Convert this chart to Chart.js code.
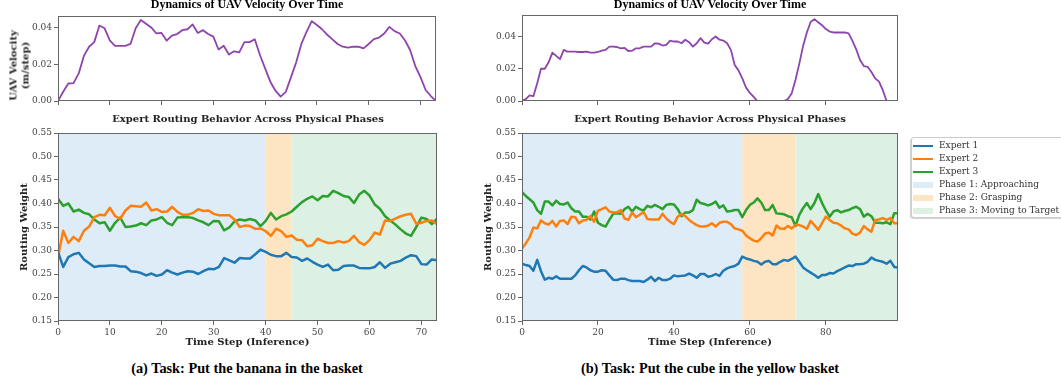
<!DOCTYPE html>
<html>
<head>
<meta charset="utf-8">
<script src="https://cdn.jsdelivr.net/npm/chart.js@4.4.0/dist/chart.umd.min.js"></script>
<style>
  html, body { margin: 0; padding: 0; background: #fff; }
  #fig { position: relative; width: 1061px; height: 385px; overflow: hidden; }
  canvas { position: absolute; }
  .txt { position: absolute; width: 400px; text-align: center; white-space: nowrap; }
  .title-top { font: bold 12px 'Liberation Serif'; line-height: 14px; color: #000; }
  .title-mid { font: bold 10px 'DejaVu Serif'; line-height: 12px; color: #222; }
  .caption { font: bold 14.3px 'Liberation Serif'; line-height: 16px; color: #000; }
  .ylab {
    position: absolute; width: 100px; text-align: center; white-space: nowrap;
    font: bold 10px 'DejaVu Serif'; line-height: 11.5px; color: #222;
    transform: rotate(-90deg);
  }
  #legend {
    position: absolute; left: 911px; top: 137px; width: 160px; height: 81px;
    border: 1px solid #ccc; border-radius: 3px; background: #fff;
    box-shadow: -1px 1px 1px rgba(0,0,0,0.18);
    font: 9px 'DejaVu Serif'; color: #333; box-sizing: border-box; padding-top: 1px;
  }
  #legend .row { position: relative; height: 13.1px; line-height: 13.1px; padding-left: 27px; }
  #legend .line { position: absolute; left: 1px; top: 5.5px; width: 20px; height: 2px; }
  #legend .patch { position: absolute; left: 1px; top: 3.5px; width: 20px; height: 6px; }
</style>
</head>
<body>
<div id="fig"></div>
<script>
// --- data ---
const expertNames = ['Expert 1', 'Expert 2', 'Expert 3'];
const expertColors = ['#1f77b4', '#ff7f0e', '#2ca02c'];
const phaseNames = ['Phase 1: Approaching', 'Phase 2: Grasping', 'Phase 3: Moving to Target'];
const phaseColors = ['rgb(222,236,248)', 'rgb(253,229,196)', 'rgb(221,240,228)'];
const velColor = '#8e44ad';

// phase boundaries (time steps)
const phasesA = [0, 40, 45, 73];
const phasesB = [0, 58, 72, 99];

// (a) banana task, steps 0..73
const velA = [
  0, 0.005, 0.0095, 0.0097, 0.015, 0.0245, 0.0295, 0.032, 0.041, 0.0395,
  0.033, 0.030, 0.030, 0.030, 0.031, 0.0395, 0.044, 0.042, 0.040, 0.0367,
  0.037, 0.0328, 0.0355, 0.0364, 0.0385, 0.039, 0.0416, 0.037, 0.0385, 0.0364,
  0.035, 0.028, 0.030, 0.0253, 0.027, 0.0264, 0.032, 0.032, 0.0336, 0.025,
  0.0177, 0.0105, 0.0056, 0.0024, 0.005, 0.013, 0.021, 0.031, 0.0376, 0.0434,
  0.0413, 0.039, 0.036, 0.0335, 0.031, 0.0295, 0.029, 0.0295, 0.0295, 0.0286,
  0.031, 0.0336, 0.0345, 0.0367, 0.0403, 0.038, 0.0367, 0.033, 0.0277, 0.019,
  0.013, 0.006, 0.0027, 0
];
const expert1A = [
  0.297, 0.265, 0.286, 0.292, 0.295, 0.281, 0.273, 0.265, 0.267, 0.267,
  0.268, 0.268, 0.266, 0.266, 0.256, 0.255, 0.252, 0.247, 0.251, 0.246,
  0.249, 0.258, 0.253, 0.249, 0.253, 0.256, 0.255, 0.250, 0.256, 0.261,
  0.260, 0.265, 0.284, 0.279, 0.274, 0.284, 0.283, 0.283, 0.292, 0.302,
  0.297, 0.291, 0.288, 0.288, 0.295, 0.286, 0.285, 0.278, 0.283, 0.276,
  0.270, 0.265, 0.270, 0.258, 0.259, 0.267, 0.268, 0.268, 0.263, 0.262,
  0.262, 0.265, 0.275, 0.263, 0.272, 0.275, 0.278, 0.285, 0.290, 0.288,
  0.271, 0.270, 0.281, 0.279
];
const expert2A = [
  0.286, 0.342, 0.316, 0.329, 0.320, 0.342, 0.351, 0.371, 0.376, 0.375,
  0.391, 0.373, 0.368, 0.385, 0.395, 0.394, 0.393, 0.402, 0.385, 0.388,
  0.382, 0.383, 0.393, 0.382, 0.376, 0.376, 0.380, 0.388, 0.384, 0.385,
  0.378, 0.375, 0.375, 0.375, 0.366, 0.350, 0.353, 0.352, 0.346, 0.347,
  0.341, 0.331, 0.346, 0.341, 0.329, 0.332, 0.323, 0.322, 0.309, 0.311,
  0.325, 0.320, 0.316, 0.316, 0.320, 0.317, 0.320, 0.331, 0.318, 0.312,
  0.322, 0.338, 0.334, 0.364, 0.363, 0.368, 0.373, 0.376, 0.378, 0.357,
  0.359, 0.363, 0.364, 0.356
];
const expert3A = [
  0.410, 0.395, 0.400, 0.383, 0.387, 0.380, 0.377, 0.366, 0.358, 0.360,
  0.342, 0.359, 0.370, 0.350, 0.351, 0.353, 0.358, 0.354, 0.364, 0.366,
  0.371, 0.359, 0.354, 0.370, 0.371, 0.371, 0.369, 0.364, 0.360, 0.354,
  0.363, 0.362, 0.343, 0.349, 0.362, 0.366, 0.364, 0.367, 0.364, 0.352,
  0.363, 0.380, 0.366, 0.373, 0.377, 0.383, 0.393, 0.403, 0.410, 0.415,
  0.407, 0.416, 0.415, 0.427, 0.422, 0.416, 0.414, 0.401, 0.419, 0.427,
  0.417, 0.398, 0.389, 0.373, 0.364, 0.355, 0.345, 0.336, 0.331, 0.350,
  0.370, 0.367, 0.356, 0.368
];

// (b) cube task, steps 0..99
const velB = [
  0, 0.0012, 0.0035, 0.003, 0.011, 0.020, 0.020, 0.024, 0.030, 0.028,
  0.026, 0.0317, 0.0306, 0.0306, 0.0306, 0.0304, 0.0304, 0.0306, 0.030, 0.030,
  0.0304, 0.0312, 0.0317, 0.0337, 0.0337, 0.0335, 0.0327, 0.0329, 0.031, 0.0312,
  0.0327, 0.0327, 0.0337, 0.0337, 0.0337, 0.0358, 0.0356, 0.0344, 0.0348, 0.0375,
  0.0369, 0.0369, 0.0358, 0.038, 0.0365, 0.0337, 0.0358, 0.039, 0.0362, 0.0356,
  0.0383, 0.040, 0.038, 0.0375, 0.0358, 0.0317, 0.0223, 0.019, 0.014, 0.0083,
  0.005, 0.0025, 0, 0, 0, 0, 0, 0, 0, 0,
  0.0012, 0.0046, 0.013, 0.023, 0.034, 0.0425, 0.049, 0.0508, 0.0488, 0.047,
  0.0446, 0.0431, 0.0425, 0.0425, 0.0425, 0.0425, 0.042, 0.0373, 0.032, 0.0254,
  0.0217, 0.0212, 0.018, 0.014, 0.012, 0.0067, 0, 0, 0, 0
];
const expert1B = [
  0.272, 0.269, 0.267, 0.257, 0.280, 0.256, 0.238, 0.242, 0.240, 0.245,
  0.240, 0.240, 0.240, 0.240, 0.247, 0.258, 0.267, 0.264, 0.258, 0.255,
  0.255, 0.258, 0.257, 0.247, 0.238, 0.237, 0.240, 0.240, 0.237, 0.235,
  0.235, 0.235, 0.233, 0.238, 0.244, 0.235, 0.242, 0.237, 0.237, 0.240,
  0.247, 0.245, 0.246, 0.247, 0.251, 0.247, 0.242, 0.250, 0.250, 0.244,
  0.246, 0.250, 0.246, 0.257, 0.262, 0.265, 0.267, 0.272, 0.287, 0.283,
  0.281, 0.278, 0.276, 0.270, 0.276, 0.278, 0.271, 0.271, 0.276, 0.280,
  0.278, 0.282, 0.287, 0.276, 0.264, 0.258, 0.253, 0.248, 0.242, 0.248,
  0.248, 0.252, 0.251, 0.256, 0.260, 0.264, 0.268, 0.267, 0.271, 0.271,
  0.272, 0.276, 0.285, 0.280, 0.278, 0.276, 0.272, 0.278, 0.265, 0.264
];
const expert2B = [
  0.304, 0.315, 0.328, 0.349, 0.347, 0.364, 0.358, 0.355, 0.363, 0.351,
  0.363, 0.364, 0.356, 0.372, 0.371, 0.358, 0.364, 0.365, 0.373, 0.361,
  0.385, 0.388, 0.392, 0.383, 0.381, 0.381, 0.386, 0.368, 0.365, 0.381,
  0.371, 0.376, 0.382, 0.367, 0.366, 0.366, 0.366, 0.378, 0.368, 0.361,
  0.356, 0.372, 0.378, 0.373, 0.365, 0.359, 0.354, 0.351, 0.351, 0.353,
  0.358, 0.351, 0.359, 0.361, 0.361, 0.356, 0.347, 0.345, 0.342, 0.332,
  0.326, 0.321, 0.319, 0.326, 0.336, 0.338, 0.332, 0.353, 0.347, 0.346,
  0.352, 0.347, 0.354, 0.354, 0.351, 0.346, 0.363, 0.354, 0.344, 0.358,
  0.372, 0.365, 0.359, 0.358, 0.353, 0.347, 0.345, 0.336, 0.333, 0.338,
  0.352, 0.345, 0.340, 0.365, 0.366, 0.369, 0.365, 0.369, 0.358, 0.358
];
const expert3B = [
  0.424, 0.416, 0.409, 0.402, 0.386, 0.378, 0.404, 0.404, 0.396, 0.406,
  0.399, 0.398, 0.402, 0.390, 0.383, 0.383, 0.372, 0.372, 0.366, 0.383,
  0.359, 0.354, 0.351, 0.365, 0.378, 0.379, 0.378, 0.388, 0.393, 0.383,
  0.393, 0.388, 0.385, 0.395, 0.392, 0.397, 0.393, 0.388, 0.397, 0.399,
  0.398, 0.388, 0.373, 0.381, 0.381, 0.386, 0.408, 0.401, 0.399, 0.396,
  0.399, 0.404, 0.391, 0.396, 0.383, 0.384, 0.386, 0.386, 0.371, 0.386,
  0.397, 0.402, 0.411, 0.402, 0.386, 0.386, 0.397, 0.379, 0.378, 0.377,
  0.373, 0.371, 0.352, 0.376, 0.390, 0.401, 0.388, 0.401, 0.420, 0.401,
  0.385, 0.372, 0.383, 0.386, 0.381, 0.384, 0.386, 0.390, 0.393, 0.388,
  0.372, 0.378, 0.373, 0.359, 0.359, 0.358, 0.360, 0.356, 0.379, 0.379
];

const velTitle = 'Dynamics of UAV Velocity Over Time';
const velYTitle = ['UAV Velocity', '(m/step)'];
const routeTitle = 'Expert Routing Behavior Across Physical Phases';
const xTitle = 'Time Step (Inference)';
const captions = ['(a) Task: Put the banana in the basket', '(b) Task: Put the cube in the yellow basket'];

// --- drawing ---
const fig = document.getElementById('fig');
const TICK_FONT = { family: 'DejaVu Serif', size: 9 };

// phase shading under the lines + matplotlib style frame on top
const framePlugin = {
  id: 'frame',
  beforeDatasetsDraw(chart, args, opts) {
    const { ctx, chartArea: a, scales: { x } } = chart;
    const b = opts.phases;
    if (!b) return;
    ctx.save();
    for (let i = 0; i < b.length - 1; i++) {
      const x0 = x.getPixelForValue(b[i]);
      const x1 = x.getPixelForValue(b[i + 1]);
      ctx.fillStyle = phaseColors[i];
      ctx.fillRect(x0, a.top, x1 - x0, a.bottom - a.top);
    }
    ctx.restore();
  },
  afterDatasetsDraw(chart) {
    const { ctx, chartArea: a } = chart;
    ctx.save();
    ctx.strokeStyle = '#666';
    ctx.lineWidth = 1;
    const l = Math.round(a.left) + 0.5, t = Math.round(a.top) + 0.5;
    const r = Math.round(a.right) - 0.5, btm = Math.round(a.bottom) - 0.5;
    ctx.strokeRect(l, t, r - l, btm - t);
    ctx.restore();
  }
};

function placeCanvas(left, top, w, h) {
  const c = document.createElement('canvas');
  c.width = w; c.height = h;
  c.style.left = left + 'px'; c.style.top = top + 'px';
  c.style.width = w + 'px'; c.style.height = h + 'px';
  fig.appendChild(c);
  return c;
}

function series(values, color, width, label) {
  return {
    label: label,
    data: values.map((v, i) => ({ x: i, y: v })),
    borderColor: color,
    borderWidth: width,
    borderJoinStyle: 'round',
    pointRadius: 0,
    tension: 0,
    fill: false
  };
}

function makeChart(canvas, datasets, o) {
  return new Chart(canvas, {
    type: 'line',
    data: { datasets: datasets },
    options: {
      responsive: false,
      animation: false,
      devicePixelRatio: 1,
      layout: { padding: { left: 0, top: o.padTop, right: o.padRight, bottom: 0 } },
      plugins: {
        legend: { display: false },
        tooltip: { enabled: false },
        frame: { phases: o.phases }
      },
      scales: {
        x: {
          type: 'linear', min: 0, max: o.xMax,
          afterFit: s => { s.height = o.xHeight; },
          grid: { drawOnChartArea: false, drawTicks: true, tickLength: 4, color: '#666' },
          border: { display: false },
          ticks: {
            display: o.xLabels, stepSize: o.xStep, includeBounds: false,
            padding: 2, maxRotation: 0, autoSkip: false, color: '#444', font: TICK_FONT
          },
          title: o.xLabels ? {
            display: true, text: xTitle, color: '#222',
            font: { family: 'DejaVu Serif', size: 10, weight: 'bold', lineHeight: 1.2 },
            padding: { top: 0, bottom: 7 }
          } : { display: false }
        },
        y: {
          min: o.yMin, max: o.yMax,
          afterFit: s => { s.width = 58; },
          grid: { drawOnChartArea: false, drawTicks: true, tickLength: 4, color: '#666' },
          border: { display: false },
          ticks: {
            stepSize: o.yStep, includeBounds: false, padding: 2,
            color: '#444', font: TICK_FONT,
            callback: v => v.toFixed(2)
          },
          title: o.yTitle ? {
            display: true, text: o.yTitle, color: '#222',
            font: { family: 'DejaVu Serif', size: 10, weight: 'bold', lineHeight: 1.2 },
            padding: { top: 18.5, bottom: 0 }
          } : { display: false }
        }
      }
    },
    plugins: [framePlugin]
  });
}

// top row: velocity
makeChart(placeCanvas(0, 0, 450, 110), [series(velA, velColor, 1.8, 'Velocity')], {
  padTop: 16, padRight: 14, xMax: 73, xStep: 10, xLabels: false, xHeight: 9,
  yMin: 0, yMax: Math.max(...velA) * 1.05, yStep: 0.02, yTitle: null
});
makeChart(placeCanvas(464, 0, 450, 110), [series(velB, velColor, 1.8, 'Velocity')], {
  padTop: 15, padRight: 16, xMax: 99, xStep: 20, xLabels: false, xHeight: 9,
  yMin: 0, yMax: Math.max(...velB) * 1.05, yStep: 0.02, yTitle: null
});

// bottom row: routing weights
const routeA = [expert1A, expert2A, expert3A];
const routeB = [expert1B, expert2B, expert3B];
makeChart(placeCanvas(0, 110, 450, 245),
  routeA.map((v, i) => series(v, expertColors[i], 2.5, expertNames[i])), {
  padTop: 23, padRight: 13, xMax: 73, xStep: 10, xLabels: true, xHeight: 34,
  yMin: 0.15, yMax: 0.55, yStep: 0.05, phases: phasesA, yTitle: 'Routing Weight'
});
makeChart(placeCanvas(464, 110, 450, 245),
  routeB.map((v, i) => series(v, expertColors[i], 2.5, expertNames[i])), {
  padTop: 23, padRight: 16, xMax: 99, xStep: 20, xLabels: true, xHeight: 34,
  yMin: 0.15, yMax: 0.55, yStep: 0.05, phases: phasesB, yTitle: 'Routing Weight'
});

// titles and captions
function addText(text, cls, cx, top) {
  const d = document.createElement('div');
  d.className = 'txt ' + cls;
  d.textContent = text;
  d.style.left = (cx - 200) + 'px';
  d.style.top = top + 'px';
  fig.appendChild(d);
}
addText(velTitle, 'title-top', 247, -3);
addText(velTitle, 'title-top', 710, -3);
addText(routeTitle, 'title-mid', 248, 112.5);
addText(routeTitle, 'title-mid', 710, 112.5);
addText(captions[0], 'caption', 247, 359.7);
addText(captions[1], 'caption', 710, 359.7);

// rotated two-line y label of the velocity panel, centred at (19, 65)
const yl = document.createElement('div');
yl.className = 'ylab';
yl.innerHTML = velYTitle.join('<br>');
yl.style.left = (19 - 50) + 'px';
yl.style.top = (65 - 11.5) + 'px';
fig.appendChild(yl);

// legend
const legend = document.createElement('div');
legend.id = 'legend';
expertNames.forEach((n, i) => {
  legend.insertAdjacentHTML('beforeend',
    `<div class="row"><span class="line" style="background:${expertColors[i]}"></span>${n}</div>`);
});
phaseNames.forEach((n, i) => {
  legend.insertAdjacentHTML('beforeend',
    `<div class="row"><span class="patch" style="background:${phaseColors[i]}"></span>${n}</div>`);
});
fig.appendChild(legend);
</script>
</body>
</html>
